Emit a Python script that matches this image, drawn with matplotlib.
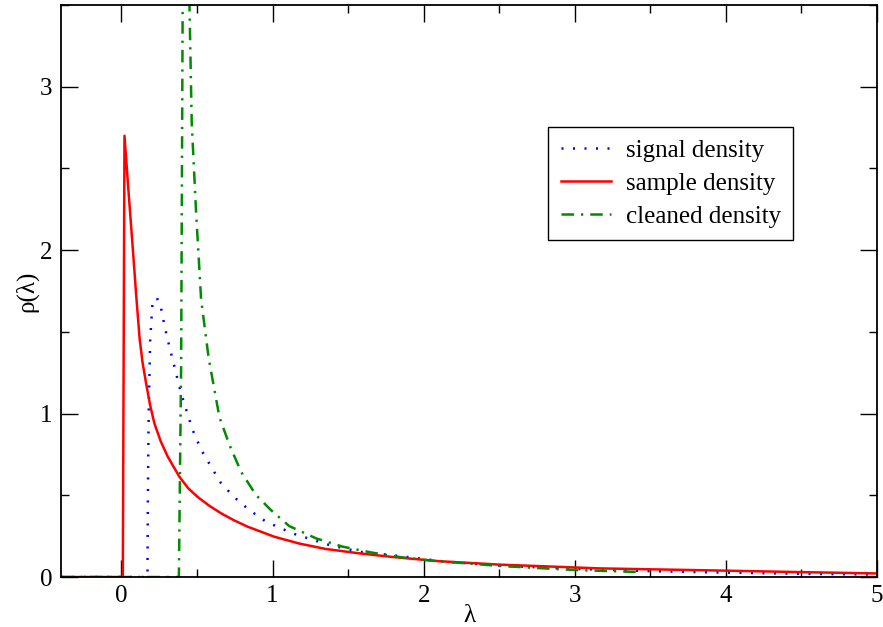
import matplotlib
matplotlib.use("Agg")
import matplotlib.pyplot as plt
from matplotlib.ticker import MultipleLocator

plt.rcParams['font.family'] = ['Liberation Serif', 'DejaVu Serif']

# signal density (blue dotted)
signal_x = [-0.4, 0.172, 0.175, 0.18, 0.19, 0.207, 0.24, 0.262, 0.289, 0.317, 0.35, 0.383,
            0.416, 0.471, 0.527, 0.593, 0.659, 0.747, 0.846, 0.956, 1.132, 1.375, 1.573,
            1.824, 2.146, 2.5, 3.0, 3.5, 4.0, 4.5, 5.0]
signal_y = [0.0, 0.0, 0.5, 1.0, 1.45, 1.70, 1.70, 1.645, 1.52, 1.41, 1.29, 1.165,
            1.06, 0.90, 0.78, 0.675, 0.574, 0.488, 0.41, 0.339, 0.267, 0.196, 0.155,
            0.13, 0.094, 0.07, 0.05, 0.036, 0.027, 0.02, 0.015]

# sample density (red solid)
sample_x = [-0.4, 0.009, 0.02, 0.045, 0.071, 0.097, 0.12, 0.14, 0.163, 0.19, 0.218, 0.26,
            0.306, 0.383, 0.44, 0.504, 0.58, 0.659, 0.745, 0.835, 1.01, 1.176, 1.35, 1.573,
            1.8, 2.1, 2.5, 3.16, 4.0, 4.5, 5.0]
sample_y = [0.0, 0.0, 2.70, 2.38, 2.06, 1.73, 1.46, 1.31, 1.186, 1.05, 0.94, 0.83,
            0.737, 0.614, 0.545, 0.49, 0.437, 0.39, 0.347, 0.308, 0.247, 0.205, 0.172, 0.145,
            0.122, 0.097, 0.076, 0.053, 0.039, 0.03, 0.022]

# cleaned density (green dash-dot)
cleaned_x = [-0.4, 0.38, 0.395, 0.405, 0.42, 0.45, 0.465, 0.494, 0.527, 0.577, 0.648,
             0.714, 0.791, 0.89, 0.989, 1.11, 1.287, 1.463, 1.66, 1.859, 2.058, 2.5,
             3.0, 3.45]
cleaned_y = [0.0, 0.0, 1.3, 3.5, 5.2, 3.5, 2.78, 2.23, 1.70, 1.34, 0.98,
             0.81, 0.645, 0.502, 0.41, 0.312, 0.237, 0.186, 0.149, 0.12, 0.100, 0.068,
             0.043, 0.03]

fig = plt.figure(figsize=(8.83, 6.27), dpi=100)
ax = fig.add_axes([0.0691, 0.0797, 0.9241, 0.9123])

ax.plot(signal_x, signal_y, color="#0000ff", linewidth=1.8, dashes=(0.8, 3.8),
        label="signal density")
ax.plot(sample_x, sample_y, color="#ff0000", linewidth=1.8, label="sample density")
ax.plot(cleaned_x, cleaned_y, color="#008b00", linewidth=1.8, dashes=(5.0, 2.8, 0.9, 2.8),
        label="cleaned density")

ax.set_xlim(-0.4, 5)
ax.set_ylim(0, 3.5)
ax.xaxis.set_major_locator(MultipleLocator(1))
ax.xaxis.set_minor_locator(MultipleLocator(0.5))
ax.yaxis.set_major_locator(MultipleLocator(1))
ax.yaxis.set_minor_locator(MultipleLocator(0.5))
ax.tick_params(which="both", direction="in", top=True, right=True, labelsize=18, pad=6)
ax.tick_params(which="major", length=12, width=1)
ax.tick_params(which="minor", length=6, width=1)
for s in ax.spines.values():
    s.set_linewidth(1.3)

ax.set_xlabel("λ", fontsize=18, labelpad=-2)
ax.set_ylabel("ρ(λ)", fontsize=18, labelpad=1)

leg = ax.legend(loc="upper left", bbox_to_anchor=(0.597, 0.787), fontsize=18,
                frameon=True, fancybox=False, framealpha=1, edgecolor="black",
                handlelength=2.0, handletextpad=0.6, borderpad=0.5, labelspacing=0.42,
                borderaxespad=0)
leg.get_frame().set_linewidth(1.0)

fig.savefig("out.png", dpi=100)
